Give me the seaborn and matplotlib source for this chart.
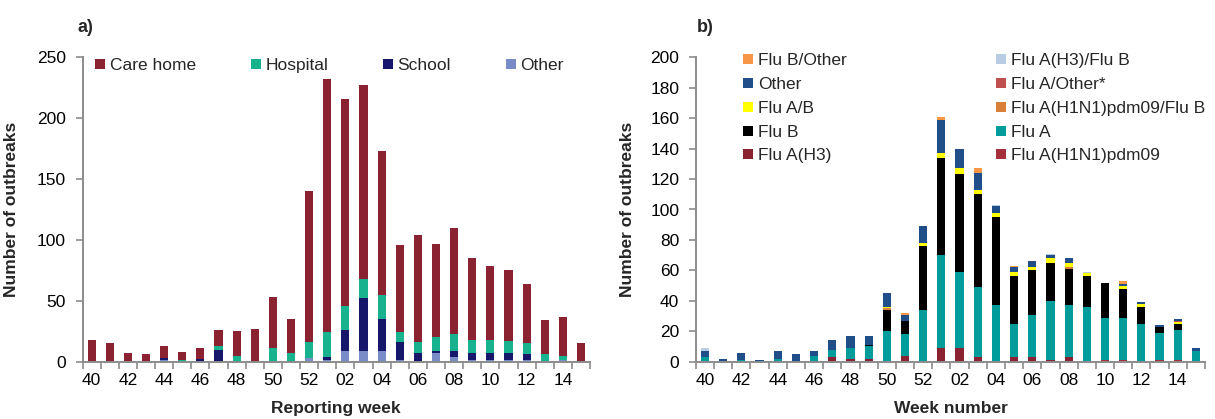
import numpy as np
import matplotlib
matplotlib.use("Agg")
import matplotlib.pyplot as plt
from matplotlib.lines import Line2D
from matplotlib.ticker import FixedLocator, NullFormatter
import seaborn as sns

# ---------------- data ----------------
weeks = ['40', '41', '42', '43', '44', '45', '46', '47', '48', '49', '50', '51', '52',
         '01', '02', '03', '04', '05', '06', '07', '08', '09', '10', '11', '12', '13', '14', '15']
tick_labels = ['40', '42', '44', '46', '48', '50', '52', '02', '04', '06', '08', '10', '12', '14']

# panel a: outbreaks by setting (bottom -> top: Other, School, Hospital, Care home)
a_other = [0, 0, 0, 0, 1, 0, 0, 0, 0, 0, 0, 0, 3, 1, 9, 9, 9, 1, 0, 7, 4, 1, 1, 1, 1, 0, 1, 0]
a_school = [0, 0, 0, 0, 2, 0, 2, 10, 0, 0, 0, 0, 0, 3, 17, 43, 26, 15, 7, 2, 5, 6, 6, 6, 5, 0, 0, 0]
a_hospital = [0, 0, 0, 0, 0, 1, 0, 3, 5, 0, 11, 7, 13, 20, 20, 16, 20, 8, 9, 11, 14, 11, 11, 10, 9, 6, 4, 0]
a_care_home = [18, 15, 7, 6, 10, 7, 9, 13, 20, 27, 42, 28, 124, 208, 170, 159, 118, 72, 88, 77, 87, 67, 61, 58, 49, 28, 32, 15]

# panel b: outbreaks by virus (bottom -> top)
b_h1n1 = [0, 0, 0, 0, 0, 0, 0, 0, 0, 0, 0, 0, 0, 0, 0, 0, 0, 0, 0, 0, 0, 0, 1, 1, 0, 1, 1, 0]
b_h3 = [0, 0, 0, 0, 0, 0, 0, 3, 2, 2, 0, 4, 0, 9, 9, 3, 0, 3, 3, 1, 3, 0, 0, 0, 0, 0, 0, 0]
b_flua = [3, 0, 1, 0, 2, 0, 4, 5, 7, 8, 20, 14, 34, 61, 50, 46, 37, 22, 28, 39, 34, 36, 28, 28, 25, 18, 20, 7]
b_flub = [0, 0, 0, 0, 0, 0, 0, 0, 0, 1, 14, 9, 42, 64, 64, 61, 58, 31, 29, 25, 24, 20, 23, 19, 11, 4, 4, 0]
b_h1n1_flub = [0, 0, 0, 0, 0, 0, 0, 0, 0, 0, 1, 0, 0, 0, 0, 0, 0, 0, 0, 0, 1, 0, 0, 0, 0, 0, 0, 0]
b_flua_b = [0, 0, 0, 0, 0, 0, 0, 0, 0, 0, 1, 0, 2, 3, 4, 3, 3, 3, 2, 3, 3, 2, 0, 2, 2, 0, 1, 0]
b_flua_other = [0, 0, 0, 0, 0, 0, 0, 0, 0, 0, 0, 0, 0, 0, 0, 0, 0, 0, 0, 0, 0, 0, 0, 0, 0, 0, 1, 0]
b_other = [4, 2, 5, 1, 5, 5, 3, 6, 8, 6, 9, 4, 11, 22, 13, 11, 4, 3, 4, 2, 3, 0, 0, 1, 1, 1, 1, 2]
b_h3_flub = [2, 0, 0, 0, 0, 0, 0, 0, 0, 0, 0, 0, 0, 0, 0, 0, 1, 0, 0, 1, 0, 1, 0, 0, 0, 0, 0, 0]
b_flub_other = [0, 0, 0, 0, 0, 0, 0, 0, 0, 0, 0, 1, 0, 2, 0, 3, 0, 1, 0, 0, 0, 0, 0, 2, 0, 0, 0, 0]

a_series = [("Other", a_other, "#7A8CC8"),
            ("School", a_school, "#16166B"),
            ("Hospital", a_hospital, "#19B28F"),
            ("Care home", a_care_home, "#8B2232")]

b_series = [("Flu A(H1N1)pdm09", b_h1n1, "#A3303C"),
            ("Flu A(H3)", b_h3, "#8B2232"),
            ("Flu A", b_flua, "#009B9B"),
            ("Flu B", b_flub, "#000000"),
            ("Flu A(H1N1)pdm09/Flu B", b_h1n1_flub, "#D8803A"),
            ("Flu A/B", b_flua_b, "#FFFF00"),
            ("Flu A/Other*", b_flua_other, "#C0504D"),
            ("Other", b_other, "#1F4E89"),
            ("Flu A(H3)/Flu B", b_h3_flub, "#B8CCE4"),
            ("Flu B/Other", b_flub_other, "#F79646")]

# ---------------- style ----------------
sns.set_style("ticks")
plt.rcParams['font.family'] = ['Liberation Sans', 'DejaVu Sans']
FS = 12.5
GREY = "#8C8C8C"

fig = plt.figure(figsize=(12.15, 4.19), dpi=100)
ax_a = fig.add_axes([0.068, 0.1368, 0.4176, 0.7264])
ax_b = fig.add_axes([0.5728, 0.1368, 0.419, 0.7264])


def stacked(ax, series):
    cum = np.zeros(len(weeks))
    cums = []
    for name, vals, col in series:
        cum = cum + np.array(vals, dtype=float)
        cums.append((name, cum.copy(), col))
    # draw tallest cumulative first, lower layers on top
    for name, c, col in reversed(cums):
        sns.barplot(x=weeks, y=c, order=weeks, color=col, saturation=1,
                    width=0.45, errorbar=None, linewidth=0, ax=ax)


def style_axes(ax, ymax, ystep):
    ax.set_xlim(-0.5, len(weeks) - 0.5)
    ax.set_ylim(0, ymax)
    ax.set_yticks(np.arange(0, ymax + 1, ystep))
    major = [weeks.index(t) for t in tick_labels]
    ax.xaxis.set_major_locator(FixedLocator(major))
    ax.set_xticklabels(tick_labels)
    ax.xaxis.set_minor_locator(FixedLocator(np.arange(-0.5, len(weeks), 1.0)))
    ax.xaxis.set_minor_formatter(NullFormatter())
    ax.tick_params(axis='x', which='major', length=0, pad=8, labelsize=FS, colors='black')
    ax.tick_params(axis='x', which='minor', length=5, width=1.2, color=GREY, direction='out')
    ax.tick_params(axis='y', which='major', length=5, width=1.2, color=GREY, pad=7,
                   labelsize=FS, labelcolor='black', direction='out')
    for s in ['top', 'right']:
        ax.spines[s].set_visible(False)
    for s in ['left', 'bottom']:
        ax.spines[s].set_color(GREY)
        ax.spines[s].set_linewidth(1.4)
    ax.set_ylabel("Number of outbreaks", fontsize=FS, fontweight='bold')
    ax.yaxis.set_label_coords(-0.125, 0.5)


stacked(ax_a, a_series)
style_axes(ax_a, 250, 50)
ax_a.set_xlabel("Reporting week", fontsize=FS, fontweight='bold')
ax_a.xaxis.set_label_coords(0.5, -0.128)

stacked(ax_b, b_series)
style_axes(ax_b, 200, 20)
ax_b.set_xlabel("Week number", fontsize=FS, fontweight='bold')
ax_b.xaxis.set_label_coords(0.5, -0.128)
ax_b.yaxis.set_label_coords(-0.12, 0.5)


def handle(col):
    return Line2D([], [], marker='s', linestyle='', markersize=7.5,
                  markerfacecolor=col, markeredgewidth=0)


# legend a (one row)
order_a = ["Care home", "Hospital", "School", "Other"]
cmap_a = {n: c for n, _, c in a_series}
fig.legend([handle(cmap_a[n]) for n in order_a], order_a, ncol=4,
           loc='upper left', bbox_to_anchor=(95 / 1215, 1 - 58 / 419),
           frameon=False, fontsize=FS, handlelength=0.6, handletextpad=0.25,
           columnspacing=3.15, borderpad=0, borderaxespad=0)

# legend b (two columns)
order_b = ["Flu B/Other", "Other", "Flu A/B", "Flu B", "Flu A(H3)",
           "Flu A(H3)/Flu B", "Flu A/Other*", "Flu A(H1N1)pdm09/Flu B", "Flu A", "Flu A(H1N1)pdm09"]
cmap_b = {n: c for n, _, c in b_series}
fig.legend([handle(cmap_b[n]) for n in order_b], order_b, ncol=2,
           loc='upper left', bbox_to_anchor=(743 / 1215, 1 - 53 / 419),
           frameon=False, fontsize=FS, handlelength=0.6, handletextpad=0.25,
           columnspacing=8.6, labelspacing=0.5, borderpad=0, borderaxespad=0)

fig.text(78 / 1215, 1 - 27 / 419, "a)", fontsize=13, fontweight='bold', va='center', ha='left')
fig.text(697 / 1215, 1 - 27 / 419, "b)", fontsize=13, fontweight='bold', va='center', ha='left')

fig.savefig("out.png", dpi=100)
